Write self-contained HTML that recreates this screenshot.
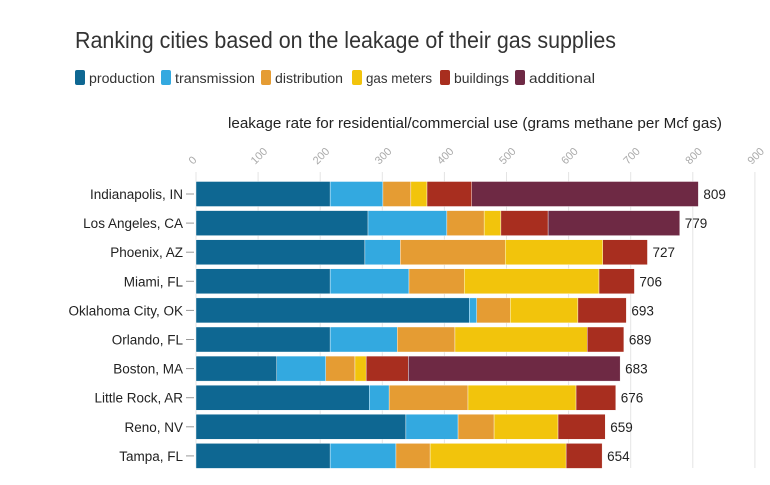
<!DOCTYPE html>
<html><head><meta charset="utf-8"><style>
body{margin:0;background:#fff;}
svg{display:block;font-family:"Liberation Sans",sans-serif;}
</style></head><body>
<svg width="770" height="485" viewBox="0 0 770 485" xmlns="http://www.w3.org/2000/svg">
<text x="75" y="48" font-size="23" fill="#333" textLength="541" lengthAdjust="spacingAndGlyphs">Ranking cities based on the leakage of their gas supplies</text>
<g font-size="14" fill="#333">
<rect x="75" y="70" width="10" height="15" rx="2" fill="#0e6792"/><text x="89" y="83" textLength="66" lengthAdjust="spacingAndGlyphs">production</text>
<rect x="161" y="70" width="10" height="15" rx="2" fill="#33a9e0"/><text x="175" y="83" textLength="80" lengthAdjust="spacingAndGlyphs">transmission</text>
<rect x="261" y="70" width="10" height="15" rx="2" fill="#e59c33"/><text x="275" y="83" textLength="68" lengthAdjust="spacingAndGlyphs">distribution</text>
<rect x="352" y="70" width="10" height="15" rx="2" fill="#f2c40c"/><text x="366" y="83" textLength="66" lengthAdjust="spacingAndGlyphs">gas meters</text>
<rect x="440" y="70" width="10" height="15" rx="2" fill="#a82e1f"/><text x="454" y="83" textLength="55" lengthAdjust="spacingAndGlyphs">buildings</text>
<rect x="515" y="70" width="10" height="15" rx="2" fill="#6e2944"/><text x="529" y="83" textLength="66" lengthAdjust="spacingAndGlyphs">additional</text>
</g>
<text x="228" y="128" font-size="15" fill="#222" textLength="494" lengthAdjust="spacingAndGlyphs">leakage rate for residential/commercial use (grams methane per Mcf gas)</text>
<g id="grid" stroke="#e4e4e4" stroke-width="1"></g>
<g id="ticks" font-size="11" fill="#aaa"></g>
<g id="bars"></g>
<g id="labels" font-size="13.5" fill="#222"></g>
<script>
var x0=196,s=0.621,ns="http://www.w3.org/2000/svg";
function el(t,a,p,txt){var e=document.createElementNS(ns,t);for(var k in a)e.setAttribute(k,a[k]);if(txt)e.textContent=txt;document.getElementById(p).appendChild(e);return e;}
for(var v=0;v<=900;v+=100){var x=x0+v*s;el("line",{x1:x,x2:x,y1:172,y2:468},"grid");
el("text",{x:x-3,y:165,transform:"rotate(-45 "+(x-3)+" 165)"},"ticks",String(v));}
var cols=["#0e6792","#33a9e0","#e59c33","#f2c40c","#a82e1f","#6e2944"];
var d=[["Indianapolis, IN",[216,301,346,372,444,809]],["Los Angeles, CA",[277,404,464,491,567,779]],["Phoenix, AZ",[272,329,498,655,727]],["Miami, FL",[216,343,432,649,706]],["Oklahoma City, OK",[440,452,506,615,693]],["Orlando, FL",[216,324,417,630,689]],["Boston, MA",[130,209,256,274,342,683]],["Little Rock, AR",[279,311,438,612,676]],["Reno, NV",[338,422,480,583,659]],["Tampa, FL",[216,322,377,596,654]]];
d.forEach(function(r,i){var yc=194+i*29.1,y=yc-12.5,p=0;
r[1].forEach(function(c,j){var ci=(r[1].length==5&&j==4)?4:j;el("rect",{x:x0+p*s,y:y,width:(c-p)*s,height:25,fill:cols[ci],stroke:"#fff","stroke-width":0.4},"bars");p=c;});
el("text",{x:183,y:yc+5,"text-anchor":"end"},"labels",r[0]);
el("line",{x1:186,x2:194,y1:yc,y2:yc,stroke:"#999"},"labels");
el("text",{x:x0+p*s+5,y:yc+5},"labels",String(p));});
</script>
</svg>
</body></html>
